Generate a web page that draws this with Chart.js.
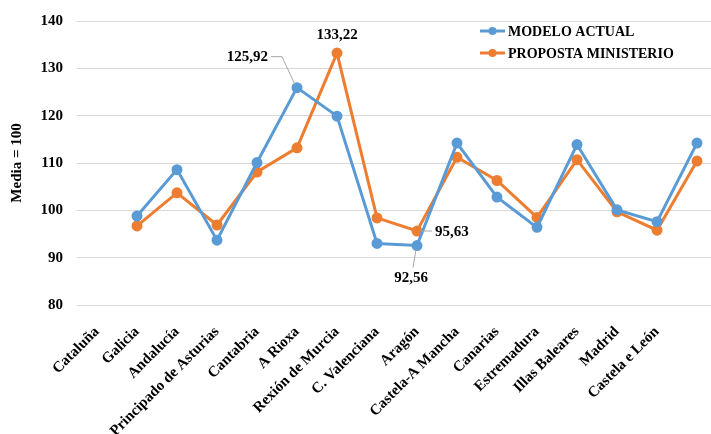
<!DOCTYPE html>
<html>
<head>
<meta charset="utf-8">
<script src="https://cdn.jsdelivr.net/npm/chart.js@4.4.1/dist/chart.umd.min.js"></script>
<style>
  html, body { margin: 0; padding: 0; background: #fff; overflow: hidden; }
  /* the plot runs a little past the right edge of the window */
  #wrap { width: 724px; height: 434px; position: relative; }
  canvas { display: block; }
</style>
</head>
<body>
<div id="wrap"><canvas id="indexChart"></canvas></div>
<script>
// Índice por comunidade (media = 100)
const regions = ['Cataluña', 'Galicia', 'Andalucía', 'Principado de Asturias', 'Cantabria', 'A Rioxa',
  'Rexión de Murcia', 'C. Valenciana', 'Aragón', 'Castela-A Mancha', 'Canarias', 'Estremadura',
  'Illas Baleares', 'Madrid', 'Castela e León', ''];
const modeloActual = [null, 98.8, 108.6, 93.7, 110.1, 125.92, 119.9, 93.0, 92.56, 114.2, 102.8, 96.4, 113.9, 100.1, 97.6, 114.2];
const propostaMinisterio = [null, 96.7, 103.7, 96.9, 108.1, 113.2, 133.22, 98.4, 95.63, 111.2, 106.3, 98.5, 110.7, 99.7, 95.8, 110.4];
const yTicks = [80, 90, 100, 110, 120, 130, 140];

// valores rotulados: [dataset, índice da comunidade]
const labelled = [[0, 5], [1, 6], [1, 8], [0, 8]];

const BLUE = '#5b9bd5';
const ORANGE = '#ed7d31';
const FONT = '"Liberation Serif", "Times New Roman", serif';

const fmt = v => v.toFixed(2).replace('.', ',');

// rótulos de valor con liña guía
const calloutPlugin = {
  id: 'callouts',
  afterDatasetsDraw(chart) {
    const ctx = chart.ctx;
    ctx.save();
    ctx.font = 'bold 15px ' + FONT;
    ctx.fillStyle = '#000';
    ctx.strokeStyle = '#a6a6a6';
    ctx.lineWidth = 1;
    ctx.textBaseline = 'middle';
    labelled.forEach(([ds, i], n) => {
      const pt = chart.getDatasetMeta(ds).data[i];
      const v = chart.data.datasets[ds].data[i];
      const x = pt.x, y = pt.y;
      const txt = fmt(v);
      ctx.beginPath();
      if (n === 0) {
        ctx.moveTo(x - 26, y - 31); ctx.lineTo(x - 15, y - 31); ctx.lineTo(x - 2, y - 3);
        ctx.stroke();
        ctx.textAlign = 'right';
        ctx.fillText(txt, x - 29, y - 31);
      } else if (n === 1) {
        ctx.textAlign = 'center';
        ctx.fillText(txt, x, y - 18);
      } else if (n === 2) {
        ctx.moveTo(x + 3, y); ctx.lineTo(x + 15, y);
        ctx.stroke();
        ctx.textAlign = 'left';
        ctx.fillText(txt, x + 18, y + 1);
      } else {
        ctx.moveTo(x - 1, y + 4); ctx.lineTo(x - 4, y + 22);
        ctx.stroke();
        ctx.textAlign = 'center';
        ctx.fillText(txt, x - 6, y + 33);
      }
    });
    ctx.restore();
  }
};

// lenda con liña e punto
const legendPlugin = {
  id: 'lineLegend',
  afterDraw(chart) {
    const ctx = chart.ctx;
    ctx.save();
    ctx.font = 'bold 14px ' + FONT;
    ctx.textBaseline = 'middle';
    ctx.textAlign = 'left';
    chart.data.datasets.forEach((ds, k) => {
      const y = 31 + k * 22;
      ctx.strokeStyle = ds.borderColor;
      ctx.lineWidth = 3;
      ctx.beginPath();
      ctx.moveTo(480, y); ctx.lineTo(505, y);
      ctx.stroke();
      ctx.fillStyle = ds.borderColor;
      ctx.beginPath();
      ctx.arc(492.5, y, 4, 0, Math.PI * 2);
      ctx.fill();
      ctx.fillStyle = '#000';
      ctx.fillText(ds.label, 508, y + 1);
    });
    ctx.restore();
  }
};

new Chart(document.getElementById('indexChart'), {
  type: 'line',
  data: {
    labels: regions,
    datasets: [
      {
        label: 'MODELO ACTUAL',
        data: modeloActual,
        borderColor: BLUE,
        backgroundColor: BLUE,
        borderWidth: 3,
        pointRadius: 4,
        pointHoverRadius: 4,
        tension: 0
      },
      {
        label: 'PROPOSTA MINISTERIO',
        data: propostaMinisterio,
        borderColor: ORANGE,
        backgroundColor: ORANGE,
        borderWidth: 3,
        pointRadius: 4,
        pointHoverRadius: 4,
        tension: 0
      }
    ]
  },
  options: {
    responsive: true,
    maintainAspectRatio: false,
    animation: false,
    layout: { padding: { top: 21, right: 0, left: 0, bottom: 0 } },
    plugins: {
      legend: { display: false },
      tooltip: { enabled: false }
    },
    scales: {
      x: {
        offset: true,
        grid: { display: false },
        border: { display: false },
        ticks: {
          color: '#000',
          font: { family: FONT, size: 15, weight: 'bold' },
          minRotation: 45,
          maxRotation: 45,
          autoSkip: false,
          padding: 10
        },
        afterFit(scale) {
          scale.height = 129;
          scale.paddingLeft = 0;
          scale.paddingRight = 0;
        }
      },
      y: {
        min: yTicks[0],
        max: yTicks[yTicks.length - 1],
        afterBuildTicks(scale) { scale.ticks = yTicks.map(v => ({ value: v })); },
        grid: { color: '#d9d9d9', lineWidth: 1, drawTicks: false },
        border: { display: false },
        ticks: {
          color: '#000',
          font: { family: FONT, size: 15, weight: 'bold' },
          padding: 14
        },
        title: {
          display: true,
          text: 'Media = 100',
          color: '#000',
          font: { family: FONT, size: 15, weight: 'bold' },
          padding: { top: 8, bottom: 8 }
        },
        afterFit(scale) {
          scale.width = 77;
          scale.paddingTop = 0;
          scale.paddingBottom = 0;
        }
      }
    }
  },
  plugins: [calloutPlugin, legendPlugin]
});
</script>
</body>
</html>
